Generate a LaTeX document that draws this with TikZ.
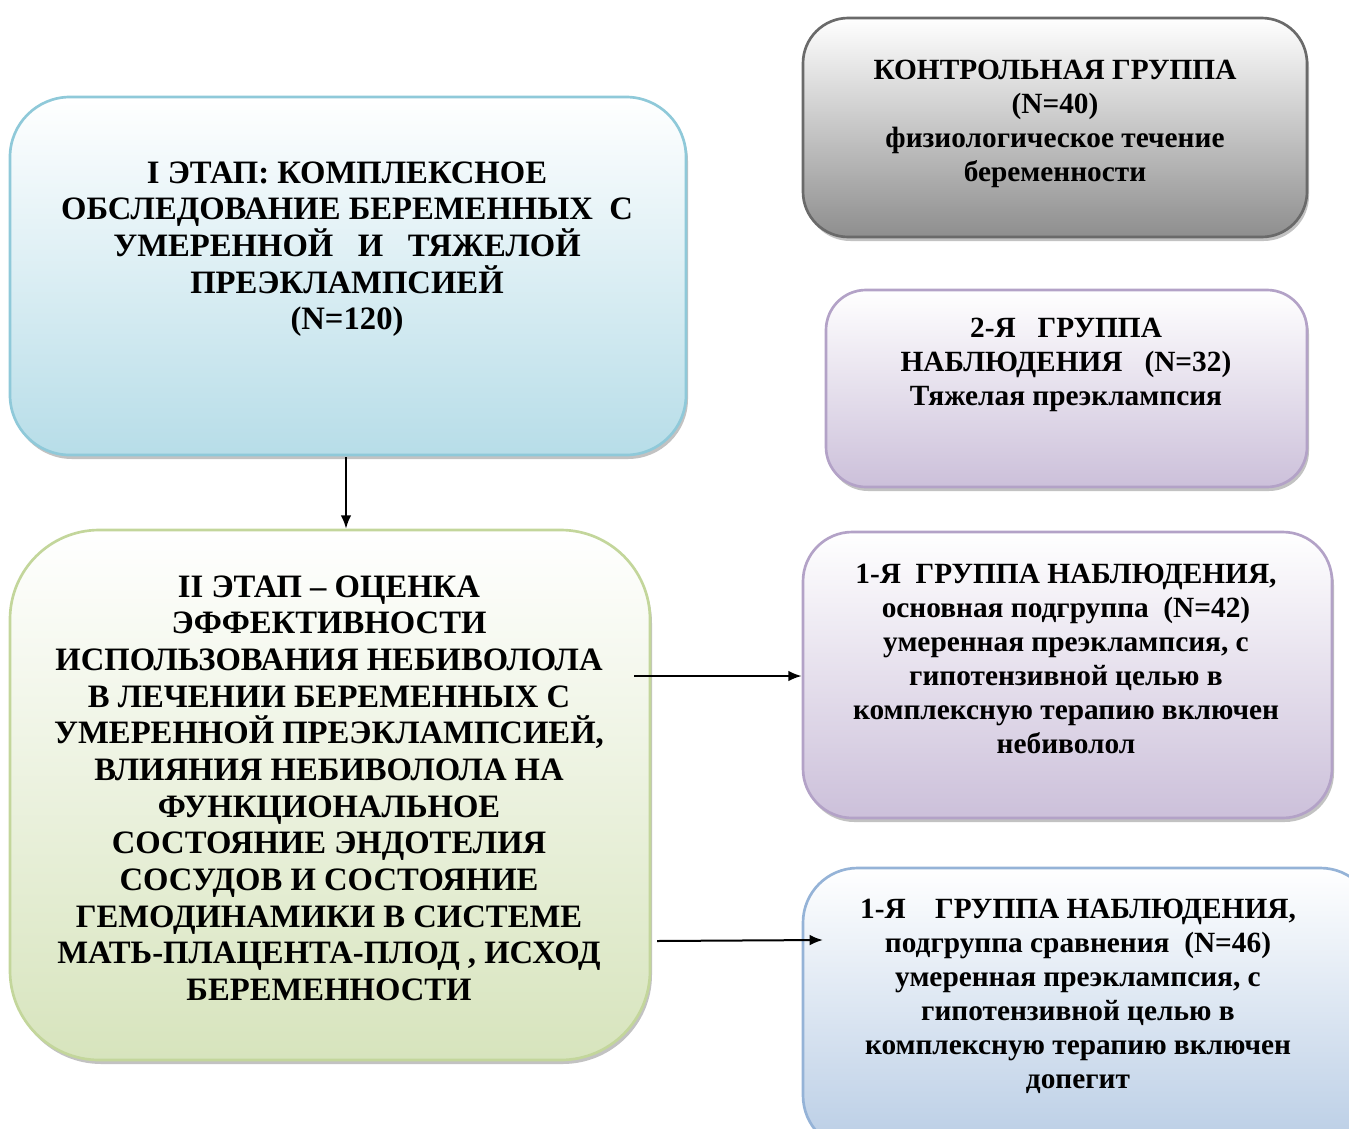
\documentclass[tikz,border=0pt]{standalone}
\usepackage{fontspec}
\setmainfont{Liberation Serif}
\usetikzlibrary{shadows,arrows.meta}
\definecolor{blueF}{HTML}{B7DDE8}\definecolor{blueD}{HTML}{8FC9D9}
\definecolor{greenF}{HTML}{D7E4BD}\definecolor{greenD}{HTML}{C3D69B}
\definecolor{grayF}{HTML}{8E8E8E}\definecolor{grayD}{HTML}{6A6A6A}
\definecolor{lilacF}{HTML}{CCC0DA}\definecolor{lilacD}{HTML}{B3A2C7}
\definecolor{ltblueF}{HTML}{B9CDE5}\definecolor{ltblueD}{HTML}{95B3D7}
\begin{document}
\begin{tikzpicture}[x=0.75pt,y=-0.75pt,
  box/.style={rectangle, rounded corners=#1, inner sep=0pt, line width=2pt,
    drop shadow={shadow xshift=1.5pt, shadow yshift=-3pt, fill=black!40, opacity=0.6}},
  shadeBox/.style 2 args={top color=white, middle color=#1!45, bottom color=#1, draw=#2},
  txtL/.style={align=center, inner sep=0pt, font=\bfseries\fontsize{24.5}{27.5}\selectfont},
  txtR/.style={align=center, inner sep=0pt, font=\bfseries\fontsize{22}{25.5}\selectfont},
  arr/.style={line width=1.5pt, -{Latex[length=10pt,width=8pt]}}]
\useasboundingbox (0,0) rectangle (1349,1128);
\clip (0,0) rectangle (1349,1128);
\node[box=45pt, shadeBox={blueF}{blueD}, minimum width=507pt, minimum height=268.5pt] (b1) at (348,276) {};
\node[box=67pt, shadeBox={greenF}{greenD}, minimum width=480pt, minimum height=397.5pt] (b2) at (330,795) {};
\node[box=34pt, shadeBox={grayF}{grayD}, minimum width=378pt, minimum height=164.25pt] (ctrl) at (1055,127.5) {};
\node[box=30pt, shadeBox={lilacF}{lilacD}, minimum width=360.75pt, minimum height=147.75pt] (g2) at (1066.5,388.5) {};
\node[box=37pt, shadeBox={lilacF}{lilacD}, minimum width=396.75pt, minimum height=214.5pt] (g1) at (1067.5,675) {};
\node[box=41pt, shadeBox={ltblueF}{ltblueD}, minimum width=429pt, minimum height=211.5pt] (cmp) at (1089,1009) {};

\node[txtL] (t1) at (347,249) {I ЭТАП: КОМПЛЕКСНОЕ\\ОБСЛЕДОВАНИЕ БЕРЕМЕННЫХ\ \ С\\УМЕРЕННОЙ\ \ \ И\ \ \ ТЯЖЕЛОЙ\\ПРЕЭКЛАМПСИЕЙ\\(N=120)};
\node[txtL] (t2) at (329,788) {II ЭТАП – ОЦЕНКА\\ЭФФЕКТИВНОСТИ\\ИСПОЛЬЗОВАНИЯ НЕБИВОЛОЛА\\В ЛЕЧЕНИИ БЕРЕМЕННЫХ С\\УМЕРЕННОЙ ПРЕЭКЛАМПСИЕЙ,\\ВЛИЯНИЯ НЕБИВОЛОЛА НА\\ФУНКЦИОНАЛЬНОЕ\\СОСТОЯНИЕ ЭНДОТЕЛИЯ\\СОСУДОВ И СОСТОЯНИЕ\\ГЕМОДИНАМИКИ В СИСТЕМЕ\\МАТЬ-ПЛАЦЕНТА-ПЛОД , ИСХОД\\БЕРЕМЕННОСТИ};
\node[txtR] (tc) at (1055,124) {КОНТРОЛЬНАЯ ГРУППА\\(N=40)\\физиологическое течение\\беременности};
\node[txtR] (tg2) at (1066,365) {2-Я\ \ \ ГРУППА\\НАБЛЮДЕНИЯ\ \ \ (N=32)\\Тяжелая преэклампсия};
\node[txtR] (tg1) at (1066,659) {1-Я\ \ ГРУППА НАБЛЮДЕНИЯ,\\основная подгруппа\ \ (N=42)\\умеренная преэклампсия, с\\гипотензивной целью в\\комплексную терапию включен\\небиволол};
\node[txtR] (tcmp) at (1078,996) {1-Я\ \ \ \ ГРУППА НАБЛЮДЕНИЯ,\\подгруппа сравнения\ \ (N=46)\\умеренная преэклампсия, с\\гипотензивной целью в\\комплексную терапию включен\\допегит};

\coordinate (v1) at (346,457);
\draw[arr] (v1) -- (v1 |- b2.north);
\coordinate (a1s) at (634,676);
\draw[arr] (a1s) -- (g1.west |- a1s);
\coordinate (a2s) at (657,941);
\coordinate (a2e) at (823,940);
\draw[arr] (a2s) -- (a2e);
\end{tikzpicture}
\end{document}
